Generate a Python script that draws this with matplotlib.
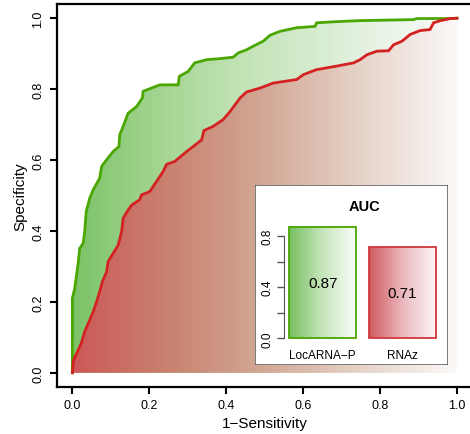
import matplotlib
matplotlib.use('Agg')
import matplotlib.pyplot as plt
import numpy as np
from matplotlib.colors import LinearSegmentedColormap
from matplotlib.patches import Polygon, Rectangle

plt.rcParams['font.family'] = ['Liberation Sans', 'DejaVu Sans']

# ROC curves (x = 1-Sensitivity, y = Specificity)
loc_x = [0, 0, 0.006, 0.009, 0.015, 0.019, 0.028, 0.032, 0.036, 0.045, 0.054, 0.071,
         0.076, 0.089, 0.106, 0.121, 0.123, 0.132, 0.145, 0.167, 0.182, 0.184, 0.206,
         0.227, 0.275, 0.278, 0.301, 0.318, 0.349, 0.384, 0.418, 0.431, 0.453, 0.470,
         0.496, 0.514, 0.540, 0.583, 0.631, 0.635, 0.683, 0.744, 0.887, 0.896, 0.983, 1.0]
loc_y = [0, 0.210, 0.238, 0.262, 0.309, 0.351, 0.365, 0.398, 0.455, 0.492, 0.516, 0.549,
         0.582, 0.601, 0.624, 0.638, 0.671, 0.695, 0.732, 0.751, 0.775, 0.794, 0.803,
         0.812, 0.812, 0.836, 0.850, 0.874, 0.883, 0.886, 0.890, 0.902, 0.911, 0.921,
         0.935, 0.952, 0.963, 0.973, 0.977, 0.987, 0.990, 0.993, 0.996, 0.999, 0.999, 1.0]

rnaz_x = [0, 0.003, 0.015, 0.023, 0.032, 0.045, 0.054, 0.063, 0.071, 0.078, 0.089, 0.093,
          0.106, 0.119, 0.128, 0.132, 0.145, 0.154, 0.175, 0.180, 0.201, 0.219, 0.236,
          0.245, 0.266, 0.297, 0.314, 0.336, 0.342, 0.366, 0.392, 0.410, 0.423, 0.436,
          0.453, 0.488, 0.522, 0.583, 0.601, 0.635, 0.683, 0.731, 0.748, 0.766, 0.792,
          0.822, 0.835, 0.857, 0.878, 0.904, 0.930, 0.939, 0.957, 0.983, 1.0]
rnaz_y = [0, 0.036, 0.064, 0.083, 0.116, 0.149, 0.172, 0.201, 0.229, 0.257, 0.285, 0.314,
          0.337, 0.360, 0.398, 0.436, 0.459, 0.473, 0.488, 0.502, 0.511, 0.540, 0.568,
          0.588, 0.596, 0.624, 0.638, 0.657, 0.683, 0.695, 0.714, 0.737, 0.756, 0.775,
          0.792, 0.803, 0.817, 0.827, 0.841, 0.855, 0.864, 0.874, 0.883, 0.897, 0.907,
          0.908, 0.925, 0.935, 0.954, 0.965, 0.968, 0.987, 0.993, 0.999, 1.0]

methods = ['LocARNA\u2212P', 'RNAz']
auc = [0.87, 0.71]
tick_vals = [0, 0.2, 0.4, 0.6, 0.8, 1.0]
tick_labels = ['0.0', '0.2', '0.4', '0.6', '0.8', '1.0']

green_line = '#4aa600'
red_line = '#d42222'
green_cm = LinearSegmentedColormap.from_list('g', [(0, '#7cc267'), (0.2, '#9fd38c'),
                                                   (0.45, '#c3e4b7'), (0.75, '#e3f1df'),
                                                   (1, '#fbfdfa')])
red_cm = LinearSegmentedColormap.from_list('r', [(0, '#cc5858'), (0.25, '#c9826f'),
                                                 (0.5, '#d2a896'), (0.75, '#e6d3c8'),
                                                 (1, '#fbf9f8')])

fig = plt.figure(figsize=(4.7, 4.35), dpi=100)
ax = fig.add_axes([57/470, 47/435, 415.4/470, 383/435])

grad = np.linspace(0, 1, 256).reshape(1, -1)
for xs, ys, cm in [(loc_x, loc_y, green_cm), (rnaz_x, rnaz_y, red_cm)]:
    poly = Polygon(list(zip(xs, ys)) + [(1, 0), (0, 0)], closed=True,
                   facecolor='none', edgecolor='none', transform=ax.transData)
    ax.add_patch(poly)
    im = ax.imshow(grad, cmap=cm, extent=[0, 1, 0, 1], aspect='auto',
                   origin='lower', interpolation='bilinear')
    im.set_clip_path(poly)
for xs, ys, lc in [(loc_x, loc_y, green_line), (rnaz_x, rnaz_y, red_line)]:
    ax.plot(xs, ys, color=lc, lw=2, solid_joinstyle='miter')

ax.set_xlim(-0.04, 1.04)
ax.set_ylim(-0.04, 1.04)
ax.set_xticks(tick_vals)
ax.set_xticklabels(tick_labels)
ax.set_yticks(tick_vals)
ax.set_yticklabels(tick_labels, rotation=90, va='center')
ax.tick_params(length=5, width=1.5, labelsize=9, pad=4)
for s in ax.spines.values():
    s.set_linewidth(1.6)
ax.set_xlabel('1\u2212Sensitivity', fontsize=11, labelpad=3)
ax.set_ylabel('Specificity', fontsize=11, labelpad=4)

# inset AUC bar chart
ins = fig.add_axes([255/470, 1 - 366/435, 193/470, 180/435])
ins.add_patch(Rectangle((0, 0), 1, 1, transform=ins.transAxes, facecolor='white',
                        edgecolor='#555555', lw=1.1, zorder=0))
pos = [1, 2]
bar_cms = [LinearSegmentedColormap.from_list('gb', ['#76bf62', '#c6e5bb', '#fbfdfa']),
           LinearSegmentedColormap.from_list('rb', ['#d05a60', '#eab8bd', '#fdf6f7'])]
bar_edges = [green_line, '#d0373c']
w = 0.835
for p, v, cm, ec in zip(pos, auc, bar_cms, bar_edges):
    ins.imshow(grad, cmap=cm, extent=[p - w/2, p + w/2, 0, v], aspect='auto',
               origin='lower', interpolation='bilinear', zorder=1)
    ins.bar(p, v, width=w, facecolor='none', edgecolor=ec, lw=1.3, zorder=2)
    ins.text(p, v / 2, '%.2f' % v, ha='center', va='center', fontsize=11)
ins.set_xlim(0.152, 2.570)
ins.set_ylim(-0.209, 1.198)
for s in ['top', 'right', 'bottom']:
    ins.spines[s].set_visible(False)
ins.spines['left'].set_position(('data', 0.519))
ins.spines['left'].set_bounds(0, 0.8)
ins.spines['left'].set_color('#555555')
ins.set_yticks([0, 0.2, 0.4, 0.6, 0.8])
ins.set_yticklabels(['0.0', '', '0.4', '', '0.8'], rotation=90, va='center')
ins.tick_params(axis='y', length=5, width=1, color='#555555', labelsize=8.5, pad=3)
ins.set_xticks([])
for p, m in zip(pos, methods):
    ins.text(p, -0.13, m, ha='center', va='center', fontsize=8.5)
ins.text(1.52, 1.03, 'AUC', ha='center', va='center', fontsize=10.5, fontweight='bold')

fig.savefig('out.png', dpi=100)
